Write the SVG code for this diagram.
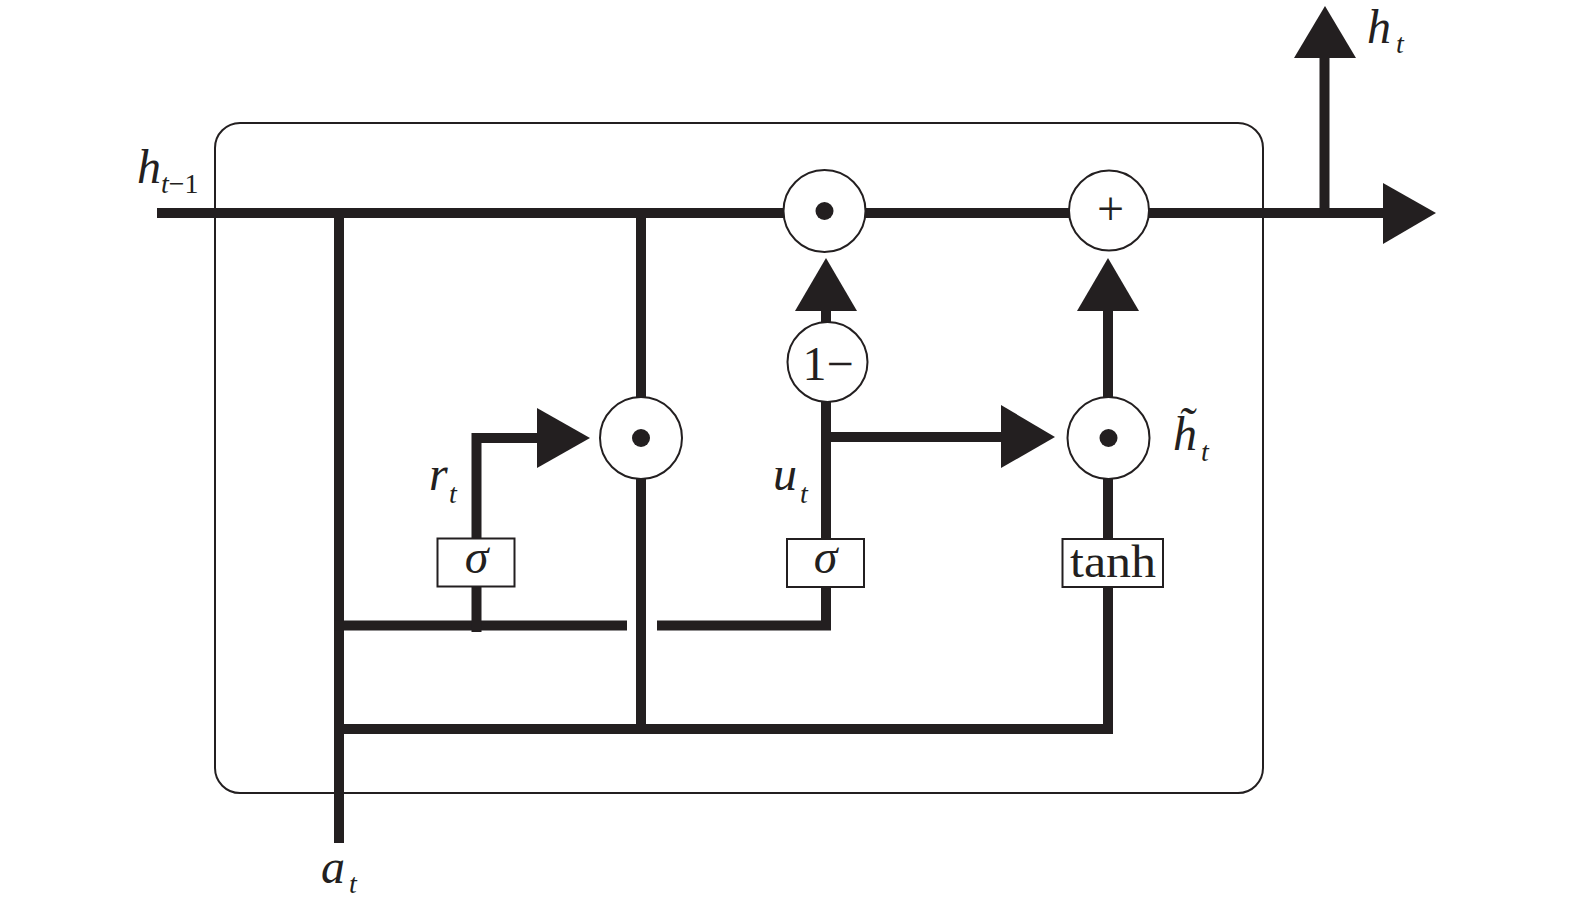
<svg xmlns="http://www.w3.org/2000/svg" width="1575" height="910" viewBox="0 0 1575 910">
<style>
.w{fill:none;stroke:#231f20;stroke-width:10;stroke-linejoin:miter;stroke-linecap:butt}
.ah{fill:#231f20}
.c{fill:#fff;stroke:#231f20;stroke-width:2}
.dot{fill:#231f20}
.bx{fill:#fff;stroke:#231f20;stroke-width:2}
.v{font-family:"Liberation Serif","Times New Roman",serif;font-style:italic;fill:#231f20;font-size:48px}
.s{font-family:"Liberation Serif","Times New Roman",serif;font-style:italic;fill:#231f20;font-size:28px}
.r{font-family:"Liberation Serif","Times New Roman",serif;fill:#231f20}
</style>
<rect width="1575" height="910" fill="#fff"/>
<g id="cell">
<rect x="215" y="123" width="1048" height="670" rx="25" ry="25" fill="none" stroke="#231f20" stroke-width="2"/>
</g>
<g id="connectors">
<path class="w" d="M157 213 H1385"/>
<polygon class="ah" points="1383,183 1436,213 1383,244"/>
<path class="w" d="M1324.5 213 V56"/>
<polygon class="ah" points="1294,58 1325,6 1356,58"/>
<path class="w" d="M339 208 V843"/>
<path class="w" d="M641 208 V734"/>
<path class="w" d="M334 625.5 H627"/>
<path class="w" d="M657 625.5 H826 V380"/>
<path class="w" d="M826 330 V308"/>
<polygon class="ah" points="795,311 826,258 857,311"/>
<path class="w" d="M826 437 H1003"/>
<polygon class="ah" points="1001,405 1055,437 1001,468"/>
<path class="w" d="M476.5 632 V438 H540"/>
<polygon class="ah" points="537,408 590,438 537,468"/>
<path class="w" d="M334 729 H1108 V440"/>
<path class="w" d="M1108 400 V308"/>
<polygon class="ah" points="1077,311 1108,258 1139,311"/>
</g>
<g id="mult-top">
<circle class="c" cx="824.5" cy="211" r="41"/>
<circle class="dot" cx="824.5" cy="211" r="9"/>
</g>
<g id="add-top">
<circle class="c" cx="1109" cy="210.5" r="40"/>
<text class="r" x="1110.5" y="225" font-size="48" text-anchor="middle">+</text>
</g>
<g id="one-minus">
<circle class="c" cx="827.5" cy="362" r="40"/>
<text class="r" x="828" y="380" font-size="48" text-anchor="middle">1−</text>
</g>
<g id="mult-reset">
<circle class="c" cx="641" cy="438" r="41"/>
<circle class="dot" cx="641" cy="438" r="9"/>
</g>
<g id="mult-cand">
<circle class="c" cx="1108.5" cy="438" r="41"/>
<circle class="dot" cx="1108.5" cy="438" r="9"/>
</g>
<g id="sigma-r">
<rect class="bx" x="437.5" y="538.5" width="77" height="48"/>
<text class="v" x="476.5" y="573" font-size="46" text-anchor="middle">σ</text>
</g>
<g id="sigma-u">
<rect class="bx" x="787" y="539" width="77" height="48"/>
<text class="v" x="825.5" y="573" font-size="46" text-anchor="middle">σ</text>
</g>
<g id="tanh">
<rect class="bx" x="1062.5" y="539" width="100.5" height="48"/>
<text class="r" x="1113" y="577" font-size="46" text-anchor="middle" textLength="86" lengthAdjust="spacingAndGlyphs">tanh</text>
</g>
<g id="labels">
<text class="v" x="137" y="183">h</text>
<text class="s" x="161" y="193">t<tspan font-style="normal">−1</tspan></text>
<text class="v" x="1367" y="43">h</text>
<text class="s" x="1396" y="53">t</text>
<text class="v" x="429" y="490">r</text>
<text class="s" x="449" y="503">t</text>
<text class="v" x="773" y="490">u</text>
<text class="s" x="800" y="503">t</text>
<text class="v" x="1173" y="450">h̃</text>
<text class="s" x="1201" y="461">t</text>
<text class="v" x="321" y="883">a</text>
<text class="s" x="349" y="893">t</text>
</g>
</svg>
